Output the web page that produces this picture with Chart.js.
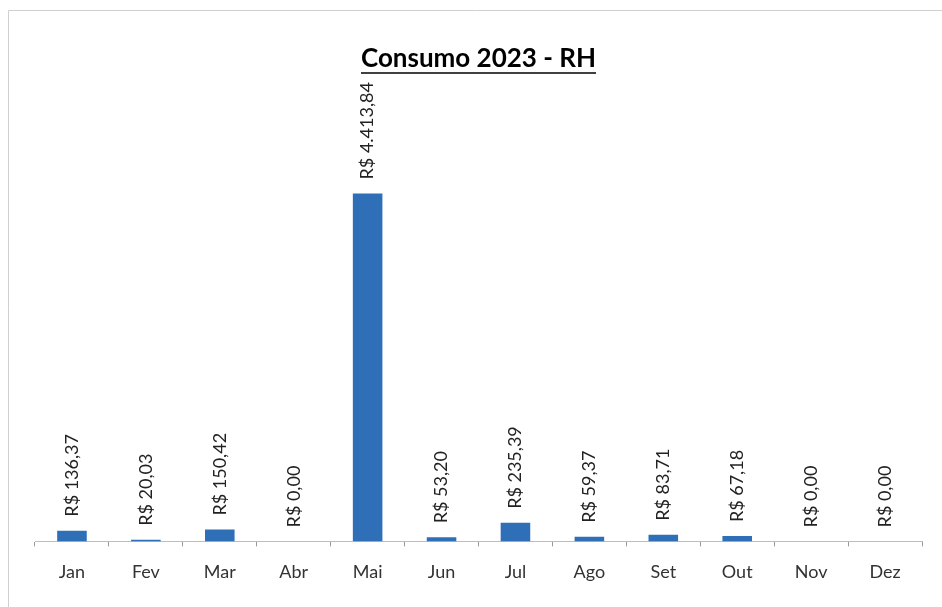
<!DOCTYPE html>
<html>
<head>
<meta charset="utf-8">
<script src="https://cdn.jsdelivr.net/npm/chart.js@4/dist/chart.umd.min.js"></script>
<style>
  html, body { margin: 0; padding: 0; background: #fff; }
  #wrap { width: 942px; height: 607px; }
</style>
</head>
<body>
<div id="wrap"><canvas id="grafico"></canvas></div>
<script>
// dados do grafico
const meses = ['Jan', 'Fev', 'Mar', 'Abr', 'Mai', 'Jun', 'Jul', 'Ago', 'Set', 'Out', 'Nov', 'Dez'];
const consumo = [136.37, 20.03, 150.42, 0, 4413.84, 53.20, 235.39, 59.37, 83.71, 67.18, 0, 0];
const titulo = 'Consumo 2023 - RH';

const fonte = 'Lato, "Noto Sans", sans-serif';

function formatarReal(v) {
    const partes = v.toFixed(2).split('.');
    const inteiro = partes[0].replace(/\B(?=(\d{3})+(?!\d))/g, '.');
    return 'R$ ' + inteiro + ',' + partes[1];
}

// moldura (so esquerda e topo aparecem na imagem)
const moldura = {
    id: 'moldura',
    beforeDraw(chart) {
        const ctx = chart.ctx;
        ctx.save();
        ctx.strokeStyle = '#cfcfcf';
        ctx.lineWidth = 1;
        ctx.beginPath();
        ctx.moveTo(8.5, chart.height);
        ctx.lineTo(8.5, 10.5);
        ctx.lineTo(chart.width, 10.5);
        ctx.stroke();
        ctx.restore();
    }
};

// sublinhado do titulo
const sublinhado = {
    id: 'sublinhado',
    afterDraw(chart) {
        const t = chart.titleBlock;
        if (!t) return;
        const ctx = chart.ctx;
        ctx.save();
        ctx.font = 'bold 26px ' + fonte;
        const w = ctx.measureText(titulo).width;
        const cx = (chart.chartArea.left + chart.chartArea.right) / 2;
        const y = t.top + t.options.padding.top + 30;
        ctx.strokeStyle = '#000';
        ctx.lineWidth = 1.5;
        ctx.beginPath();
        ctx.moveTo(cx - w / 2, y);
        ctx.lineTo(cx + w / 2, y);
        ctx.stroke();
        ctx.restore();
    }
};

// rotulos de valor na vertical
const rotulos = {
    id: 'rotulos',
    afterDatasetsDraw(chart) {
        const ctx = chart.ctx;
        const meta = chart.getDatasetMeta(0);
        ctx.save();
        ctx.font = '18px ' + fonte;
        ctx.fillStyle = '#222';
        ctx.textAlign = 'left';
        ctx.textBaseline = 'middle';
        meta.data.forEach((bar, i) => {
            ctx.save();
            ctx.translate(bar.x, bar.y - 14);
            ctx.rotate(-Math.PI / 2);
            ctx.fillText(formatarReal(consumo[i]), 0, 0);
            ctx.restore();
        });
        ctx.restore();
    }
};

new Chart(document.getElementById('grafico'), {
    type: 'bar',
    data: {
        labels: meses,
        datasets: [{
            label: 'Consumo',
            data: consumo,
            backgroundColor: '#2E6FB7',
            categoryPercentage: 1,
            barPercentage: 0.4
        }]
    },
    options: {
        responsive: true,
        maintainAspectRatio: false,
        animation: false,
        layout: {
            padding: { left: 35, right: 20, top: 0, bottom: 9 }
        },
        plugins: {
            legend: { display: false },
            tooltip: { enabled: false },
            title: {
                display: true,
                text: titulo,
                color: '#000',
                font: { family: fonte, size: 26, weight: 'bold' },
                padding: { top: 43, bottom: 73 }
            }
        },
        scales: {
            y: {
                display: false,
                min: 0,
                max: 5000
            },
            x: {
                offset: true,
                border: { color: '#bdbdbd', width: 1 },
                grid: {
                    offset: true,
                    drawOnChartArea: false,
                    drawTicks: true,
                    tickLength: 5,
                    color: '#9a9a9a'
                },
                ticks: {
                    color: '#333',
                    padding: 15,
                    font: { family: fonte, size: 18 }
                }
            }
        }
    },
    plugins: [moldura, sublinhado, rotulos]
});
</script>
</body>
</html>
